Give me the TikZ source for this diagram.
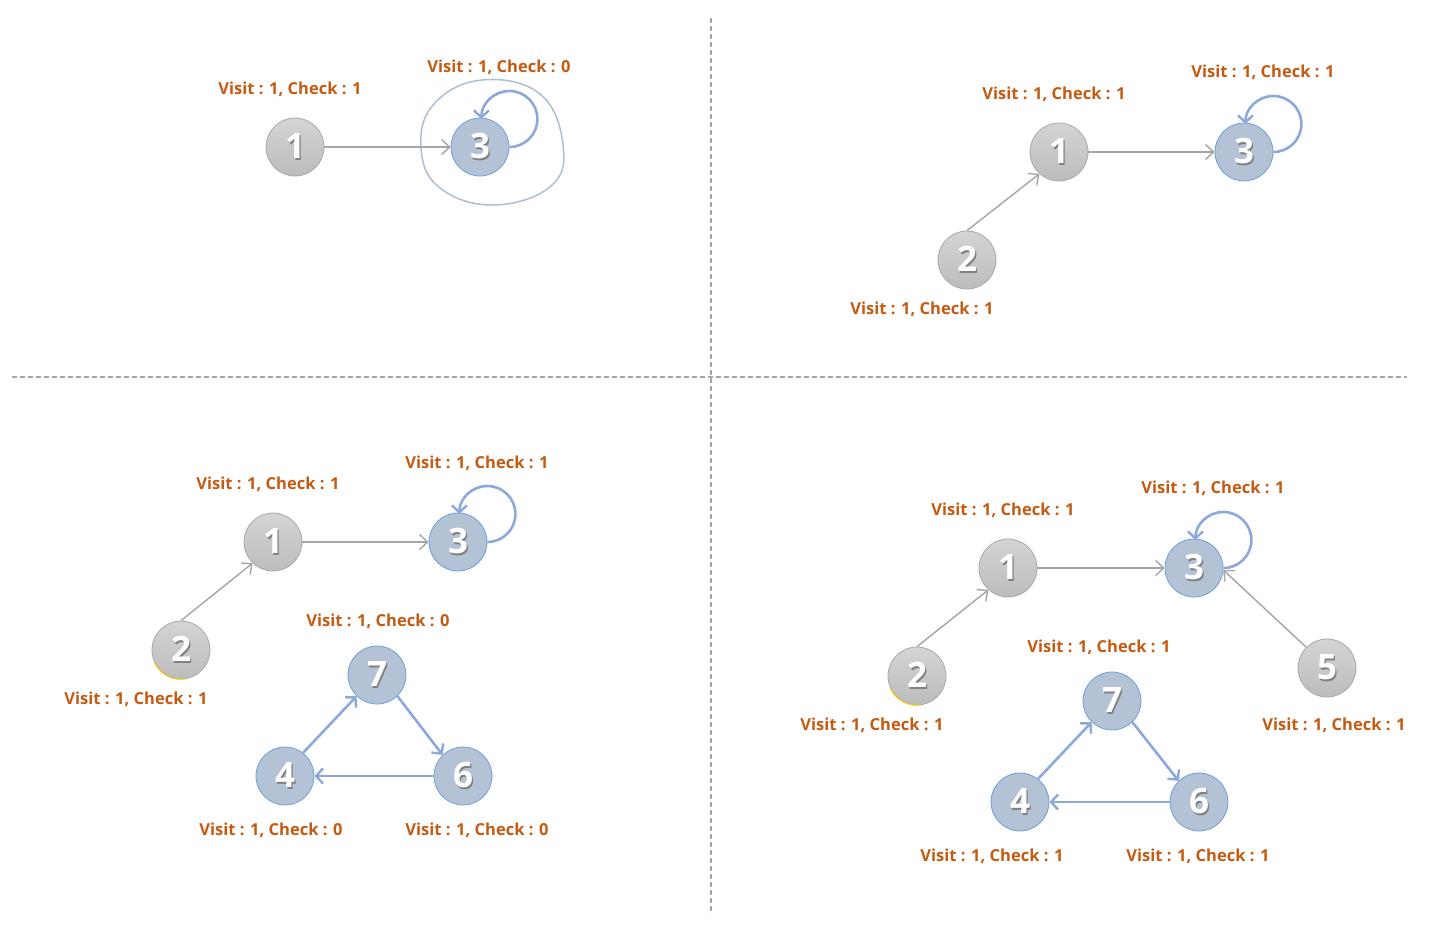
\documentclass[tikz,border=0pt]{standalone}
\usepackage{fontspec}
\setmainfont{Open Sans}
\newfontfamily\labfont{Open Sans}
\usetikzlibrary{arrows.meta}
\definecolor{labc}{HTML}{C55A11}
\definecolor{gfill}{HTML}{C6C6C6}
\definecolor{gline}{HTML}{A8A8A8}
\definecolor{bfill}{HTML}{B3C2D4}
\definecolor{bline}{HTML}{6E9FD8}
\definecolor{barrow}{HTML}{8DA9DB}
\definecolor{garrow}{HTML}{A5A5A5}
\definecolor{sepc}{HTML}{A6A6A6}
\definecolor{ringc}{HTML}{ADBFD2}
\newcommand\numtext[1]{\makebox[0pt]{\hspace{2.5pt}\raisebox{-2pt}{\color{black!50}#1}}\makebox[0pt]{\color{white}#1}}
\tikzset{
  gnode/.style={circle, minimum size=58pt, inner sep=0pt, draw=gline, line width=0.8pt, top color=gfill!75!white, bottom color=gfill!95!black, font=\bfseries\fontsize{35}{35}\selectfont},
  bnode/.style={circle, minimum size=58pt, inner sep=0pt, draw=bline, line width=0.8pt, fill=bfill, font=\bfseries\fontsize{35}{35}\selectfont},
  lab/.style={text=labc, font=\labfont\bfseries\fontsize{16.5}{16.5}\selectfont, inner sep=0pt},
  garr/.style={draw=garrow, line width=1.4pt, -{Straight Barb[length=8pt,width=15pt,line width=1.4pt]}},
  barr/.style={draw=barrow, line width=2.6pt, -{Straight Barb[length=7pt,width=15pt,line width=2.4pt]}},
  sep/.style={draw=sepc, line width=1.2pt, dash pattern=on 5pt off 3pt},
  yrim/.style={draw=yellow!60!orange, line width=1pt},
}
\begin{document}
\begin{tikzpicture}[x=1pt,y=-1pt]
\useasboundingbox[fill=white] (0,0) rectangle (1443,929);
% separators
\coordinate (vt) at (711,18); \coordinate (vb) at (711,914);
\coordinate (hl) at (12,377); \coordinate (hr) at (1407,377);
\draw[sep] (vt) -- (vb);
\draw[sep] (hl) -- (hr);

% ---------- panel 1 ----------
\node[gnode] (a1) at (295,147) {\numtext{1}};
\node[bnode] (a3) at (480,147) {\numtext{3}};
\draw[ringc, line width=1.5pt] plot[smooth cycle, tension=0.7] coordinates {(421,148) (434,104) (482,80) (540,94) (563,145) (551,186) (494,205) (440,188)};
\draw[garr] (a1) -- (a3);
\draw[barr] (a3.east) arc[start angle=90, end angle=-180, radius=28];
\node[lab] (la1) at (290,89) {Visit : 1, Check : 1};
\node[lab] (la3) at (499,67) {Visit : 1, Check : 0};

% ---------- panel 2 ----------
\node[gnode] (b1) at (1059,152) {\numtext{1}};
\node[bnode] (b3) at (1244,152) {\numtext{3}};
\node[gnode] (b2) at (967,260) {\numtext{2}};
\draw[garr] (b1) -- (b3);
\draw[garr] (b2.north) -- (b1.228);
\draw[barr] (b3.east) arc[start angle=90, end angle=-180, radius=28];
\node[lab] (lb1) at (1054,94) {Visit : 1, Check : 1};
\node[lab] (lb3) at (1263,72) {Visit : 1, Check : 1};
\node[lab] (lb2) at (922,309) {Visit : 1, Check : 1};

% ---------- panel 3 ----------
\node[gnode] (c1) at (273,542) {\numtext{1}};
\node[bnode] (c3) at (458,542) {\numtext{3}};
\node[gnode] (c2) at (181,650) {\numtext{2}};
\draw[yrim] (c2.205) arc[start angle=155, end angle=80, radius=29];
\node[bnode] (c7) at (377,675) {\numtext{7}};
\node[bnode] (c4) at (285,776) {\numtext{4}};
\node[bnode] (c6) at (463,776) {\numtext{6}};
\draw[garr] (c1) -- (c3);
\draw[garr] (c2.north) -- (c1.226);
\draw[barr] (c3.east) arc[start angle=90, end angle=-180, radius=28];
\draw[barr] (c4.52) -- (c7.226);
\draw[barr] (c7.314) -- (c6.134);
\draw[barr] (c6.west) -- (c4.east);
\node[lab] (lc1) at (268,484) {Visit : 1, Check : 1};
\node[lab] (lc3) at (477,463) {Visit : 1, Check : 1};
\node[lab] (lc2) at (136,699) {Visit : 1, Check : 1};
\node[lab] (lc7) at (378,621) {Visit : 1, Check : 0};
\node[lab] (lc4) at (271,830) {Visit : 1, Check : 0};
\node[lab] (lc6) at (477,830) {Visit : 1, Check : 0};

% ---------- panel 4 ----------
\node[gnode] (d1) at (1008,568) {\numtext{1}};
\node[bnode] (d3) at (1194,568) {\numtext{3}};
\node[gnode] (d2) at (917,676) {\numtext{2}};
\draw[yrim] (d2.205) arc[start angle=155, end angle=80, radius=29];
\node[gnode] (d5) at (1327,668) {\numtext{5}};
\node[bnode] (d7) at (1112,701) {\numtext{7}};
\node[bnode] (d4) at (1020,802) {\numtext{4}};
\node[bnode] (d6) at (1199,802) {\numtext{6}};
\draw[garr] (d1) -- (d3);
\draw[garr] (d2.north) -- (d1.228);
\draw[garr] (d5.135) -- (d3.356);
\draw[barr] (d3.east) arc[start angle=90, end angle=-180, radius=28];
\draw[barr] (d4.52) -- (d7.226);
\draw[barr] (d7.314) -- (d6.134);
\draw[barr] (d6.west) -- (d4.east);
\node[lab] (ld1) at (1003,510) {Visit : 1, Check : 1};
\node[lab] (ld3) at (1213,488) {Visit : 1, Check : 1};
\node[lab] (ld2) at (872,725) {Visit : 1, Check : 1};
\node[lab] (ld5) at (1334,725) {Visit : 1, Check : 1};
\node[lab] (ld7) at (1099,647) {Visit : 1, Check : 1};
\node[lab] (ld4) at (992,856) {Visit : 1, Check : 1};
\node[lab] (ld6) at (1198,856) {Visit : 1, Check : 1};
\end{tikzpicture}
\end{document}
